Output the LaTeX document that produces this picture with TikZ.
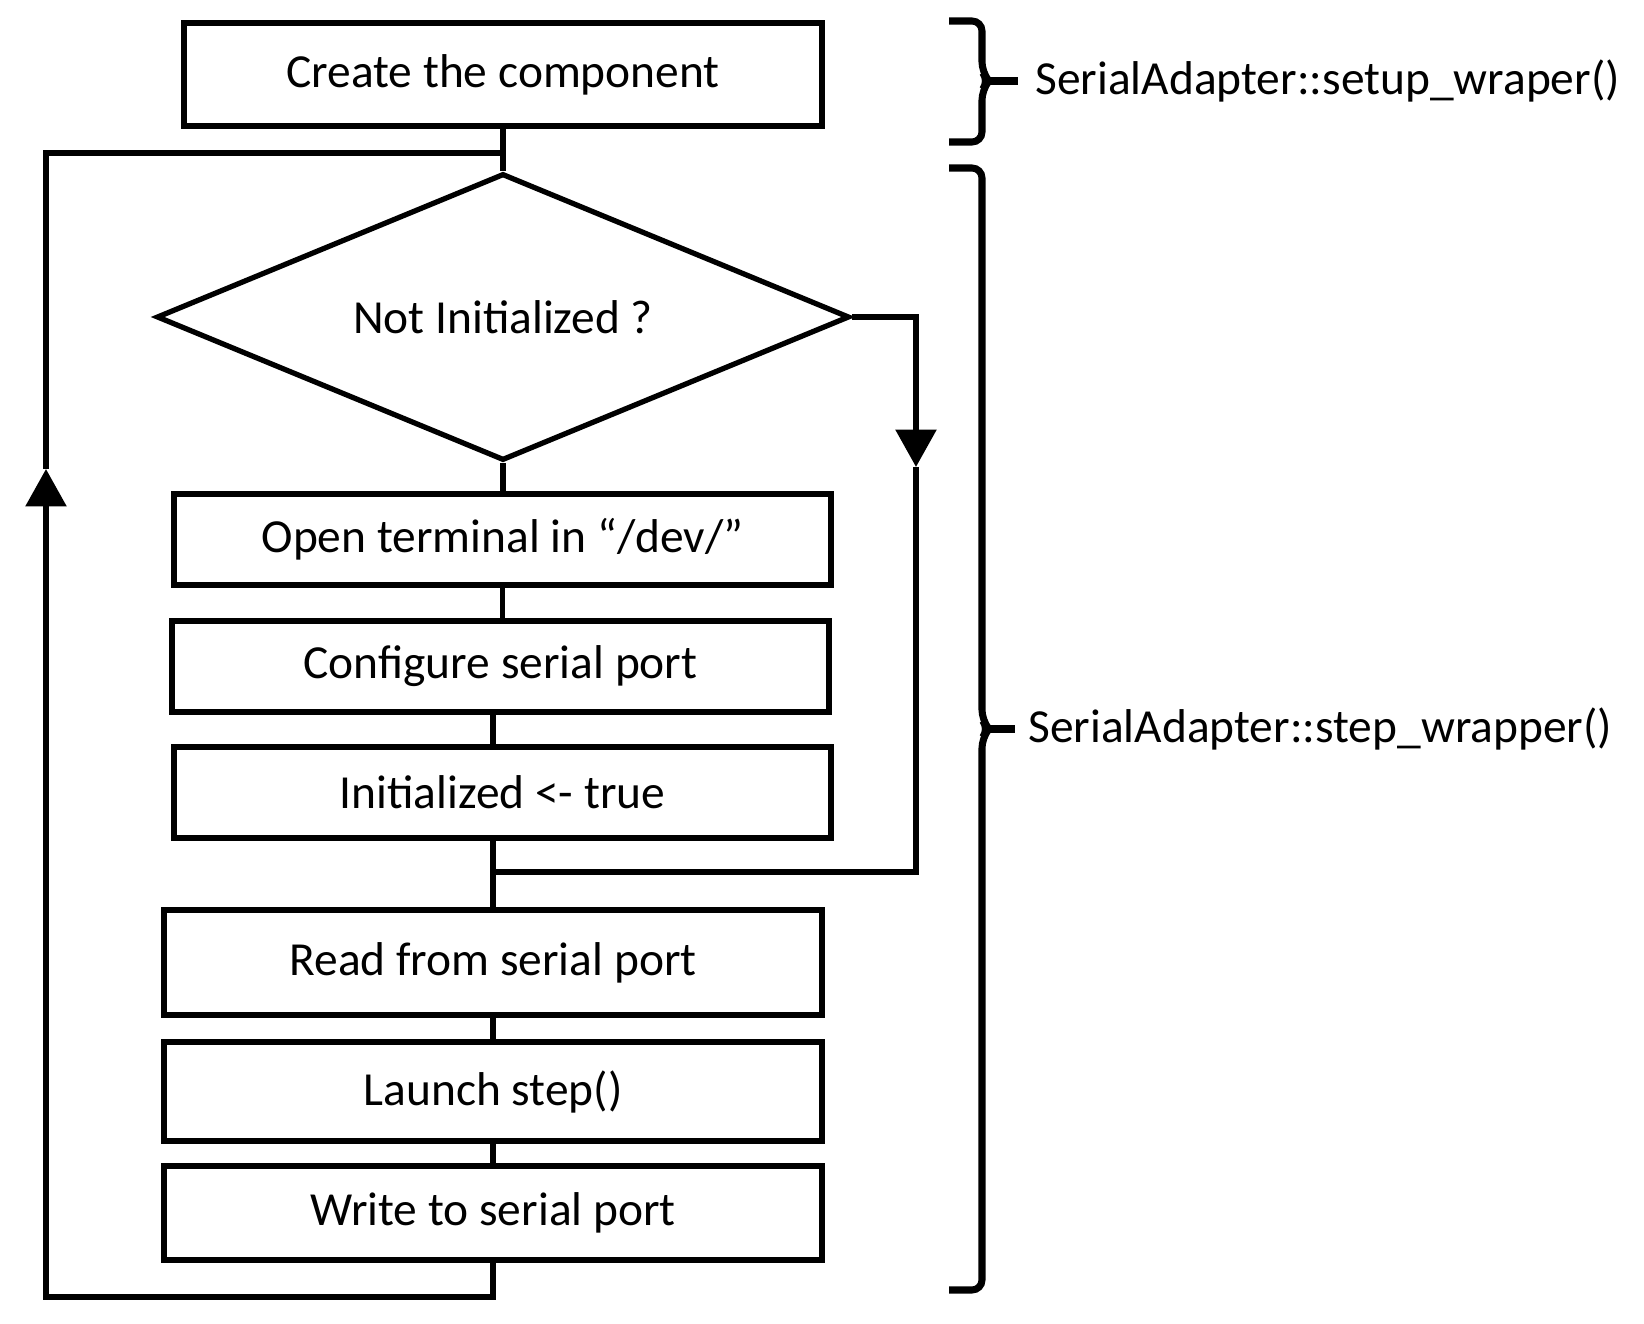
\documentclass[tikz,border=0pt]{standalone}
\usepackage{fontspec}
\setmainfont{Carlito}
\usepackage{tikz}
\usetikzlibrary{arrows.meta, positioning, shapes.geometric, calc}
\definecolor{flowink}{HTML}{000000}

\begin{document}
\begin{tikzpicture}[x=0.02cm, y=-0.02cm,
    stepbox/.style={draw=flowink, line width=3.4pt, rectangle, inner sep=0pt,
      minimum width=13.15cm, minimum height=1.82cm, font=\fontsize{27}{32}\selectfont},
    testbox/.style={draw=flowink, line width=3pt, diamond, aspect=2.41, inner sep=0pt,
      minimum width=13.86cm, minimum height=5.74cm, font=\fontsize{27}{32}\selectfont},
    flow/.style={draw=flowink, line width=3.4pt},
    flowtip/.style={flow, -{Triangle[width=0.8cm, length=0.75cm]}},
    bracket/.style={draw=flowink, line width=4pt, rounded corners=0.2cm},
    fnlabel/.style={anchor=west, inner sep=0pt, font=\fontsize{27}{32}\selectfont}]
  \useasboundingbox (0,0) rectangle (1644,1324);

  % flow boxes
  \node[stepbox, minimum width=12.76cm, minimum height=2.06cm] (create) at (503,74.5) {Create the component};
  \node[testbox] (check) at (503,317) {Not Initialized ?};
  \node[stepbox] (open) at (502.5,539.5) {Open terminal in “/dev/”};
  \node[stepbox] (config) at (500.5,666.5) {Configure serial port};
  \node[stepbox] (init) at (502.5,792.5) {Initialized <- true};
  \node[stepbox, minimum height=2.1cm] (read) at (493,962.5) {Read from serial port};
  \node[stepbox, minimum height=1.98cm] (launch) at (493,1091.5) {Launch step()};
  \node[stepbox, minimum height=1.88cm] (write) at (493,1213) {Write to serial port};

  % turning points
  \coordinate (merge) at (493,872);
  \coordinate (yesturn) at (916,317);
  \coordinate (yestip) at (916,467);
  \coordinate (loopbl) at (46,1297);
  \coordinate (looptip) at (46,469);
  \coordinate (looptl) at (46,153);

  % straight links
  \draw[flow] (create.south) -- (create.south |- check.north);
  \draw[flow] (check.south) -- (check.south |- open.north);
  \draw[flow] (open.south) -- (open.south |- config.north);
  \draw[flow] (config.south -| read.north) -- (init.north -| read.north);
  \draw[flow] (init.south -| read.north) -- (read.north);
  \draw[flow] (read.south) -- (launch.north);
  \draw[flow] (launch.south) -- (write.north);

  % already initialized: skip setup
  \draw[flowtip] (check.east) -- (yesturn) -- (yestip);
  \draw[flow] (yestip) -- (yestip |- merge) -- (merge);

  % loop back
  \draw[flowtip] (write.south) |- (loopbl) -- (looptip);
  \draw[flow] (looptip) -- (looptl) -- (looptl -| create.south);

  % wrapper braces
  \node[fnlabel] (setuplbl) at (1035,81) {SerialAdapter::setup\_wraper()};
  \node[fnlabel] (steplbl) at (1028,729) {SerialAdapter::step\_wrapper()};
  \draw[bracket] (949,21) -| (982,72) -- (989,81) -- (982,90) |- (949,142);
  \draw[bracket] (989,81) -- ($(setuplbl.west)+(-17,0)$);
  \draw[bracket] (949,168) -| (982,720) -- (989,729) -- (982,738) |- (949,1290);
  \draw[bracket] (989,729) -- ($(steplbl.west)+(-13,0)$);
\end{tikzpicture}
\end{document}
